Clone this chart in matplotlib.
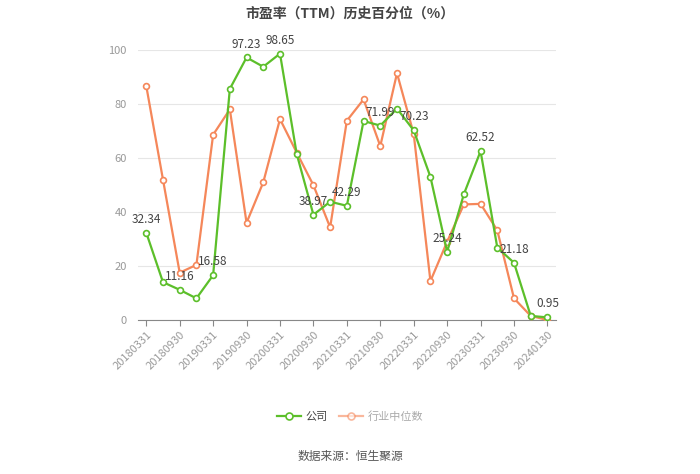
import matplotlib
matplotlib.use("Agg")
import matplotlib.pyplot as plt
from matplotlib.lines import Line2D

plt.rcParams['font.family'] = ['Noto Sans CJK SC', 'DejaVu Sans']

dates = ["20180331", "20180630", "20180930", "20181231", "20190331", "20190630",
         "20190930", "20191231", "20200331", "20200630", "20200930", "20201231",
         "20210331", "20210630", "20210930", "20211231", "20220331", "20220630",
         "20220930", "20221231", "20230331", "20230630", "20230930", "20231231",
         "20240130"]
company = [32.34, 14.0, 11.16, 8.0, 16.58, 85.6, 97.23, 93.8, 98.65, 61.5,
           38.97, 43.8, 42.29, 73.7, 71.99, 78.3, 70.23, 53.0, 25.24, 46.6,
           62.52, 26.8, 21.18, 1.5, 0.95]
industry = [86.7, 52.0, 17.5, 20.4, 68.6, 78.0, 36.0, 51.0, 74.4, 62.0,
            49.9, 34.3, 73.8, 81.7, 64.4, 91.4, 68.9, 14.4, 29.0, 42.8,
            43.0, 33.2, 8.0, 1.5, 0.0]
labeled_idx = list(range(0, 25, 2))

green = '#5cbf2a'
orange = '#f5875a'

fig = plt.figure(figsize=(7, 4.74), dpi=100)
ax = fig.add_axes([0.197, 0.325, 0.597, 0.5695])

x = list(range(len(dates)))
ax.plot(x, industry, color=orange, lw=1.6, marker='o', ms=4.2, mfc='white',
        mec=orange, mew=1.2, zorder=3)
ax.plot(x, company, color=green, lw=1.6, marker='o', ms=4.2, mfc='white',
        mec=green, mew=1.2, zorder=4)

for i in labeled_idx:
    ax.annotate(f"{company[i]:.2f}", (x[i], company[i]), xytext=(0, 5),
                textcoords='offset points', ha='center', va='bottom',
                fontsize=8.5, color='#444444', zorder=5)

ax.set_xlim(-0.5, len(dates) - 0.5)
ax.set_ylim(0, 100)
ax.set_yticks([0, 20, 40, 60, 80, 100])
ax.set_xticks(labeled_idx)
ax.set_xticklabels([dates[i] for i in labeled_idx], rotation=45, ha='right',
                   rotation_mode='anchor', fontsize=8, color='#999999')
ax.tick_params(axis='y', length=0, labelsize=8, labelcolor='#999999', pad=8)
ax.tick_params(axis='x', length=4, color='#888888', pad=3)
ax.grid(axis='y', color='#e6e6e6', lw=0.8)
ax.set_axisbelow(True)
for s in ['top', 'right', 'left']:
    ax.spines[s].set_visible(False)
ax.spines['bottom'].set_color('#888888')

fig.text(0.5, 0.972, "市盈率（TTM）历史百分位（%）", ha='center', va='center',
         fontsize=10, fontweight='bold', color='#444444')

handles = [Line2D([], [], color=green, lw=1.6, marker='o', ms=5, mfc='white', mec=green, mew=1.2),
           Line2D([], [], color=orange, lw=1.6, marker='o', ms=5, mfc='white', mec=orange, mew=1.2, alpha=0.6)]
leg = fig.legend(handles, ["公司", "行业中位数"], loc='center', bbox_to_anchor=(0.5, 0.122),
                 ncol=2, frameon=False, fontsize=8, handlelength=2.2, columnspacing=1.0,
                 handletextpad=0.4)
leg.get_texts()[0].set_color('#444444')
leg.get_texts()[1].set_color('#aaaaaa')

fig.text(0.5, 0.038, "数据来源：恒生聚源", ha='center', va='center', fontsize=8.5, color='#555555')

fig.savefig("out.png", dpi=100)
